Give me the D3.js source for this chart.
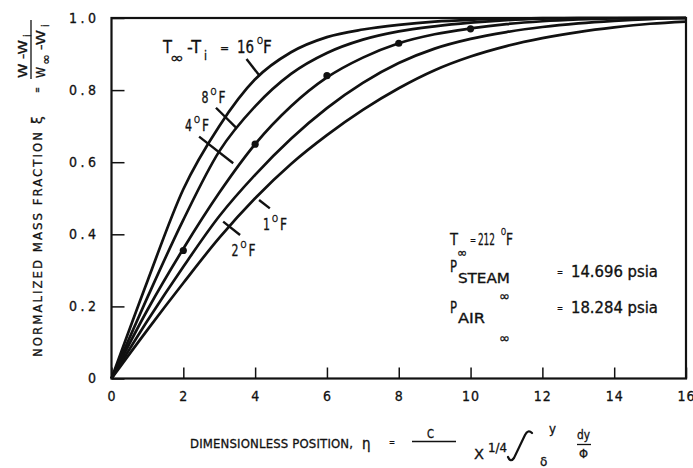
<!DOCTYPE html>
<html>
<head>
<meta charset="utf-8">
<script src="https://cdn.jsdelivr.net/npm/d3@7"></script>
<style>
  html, body { margin: 0; padding: 0; background: #fff; }
  svg { display: block; }
  text { font-family: "DejaVu Sans Condensed", "Liberation Sans Narrow", "Liberation Sans", sans-serif; fill: #111; stroke: #111; stroke-width: 0.3px; }
</style>
</head>
<body>
<svg id="chart" width="693" height="468"></svg>
<script>
// Dimensionless position eta at which each profile is tabulated
const eta = [0, 1, 2, 3, 4, 5, 6, 7, 8, 9, 10, 11, 12, 13, 14, 15, 16];

// Normalized mass fraction profiles for each temperature difference T∞ - Ti
const xi16F = [0, 0.27, 0.525, 0.70, 0.83, 0.905, 0.947, 0.968, 0.981, 0.990, 0.995, 0.998, 1.0, 1.0, 1.0, 1.0, 1.0];
const xi8F  = [0, 0.225, 0.44, 0.63, 0.755, 0.845, 0.903, 0.940, 0.963, 0.977, 0.987, 0.994, 0.998, 1.0, 1.0, 1.0, 1.0];
const xi4F  = [0, 0.19, 0.36, 0.515, 0.65, 0.755, 0.835, 0.890, 0.930, 0.955, 0.971, 0.983, 0.991, 0.996, 0.999, 1.0, 1.0];
const xi2F  = [0, 0.16, 0.31, 0.45, 0.565, 0.665, 0.75, 0.82, 0.875, 0.915, 0.942, 0.961, 0.975, 0.985, 0.992, 0.997, 1.0];
const xi1F  = [0, 0.135, 0.265, 0.39, 0.50, 0.595, 0.675, 0.745, 0.805, 0.855, 0.893, 0.922, 0.944, 0.961, 0.974, 0.984, 0.99];

// Measured points
const pointEta = [2, 4, 6, 8, 10];
const pointXi  = [0.355, 0.65, 0.84, 0.93, 0.97];

// Axis ticks
const xTicks = [0, 2, 4, 6, 8, 10, 12, 14, 16];
const yTicks = [0, 0.2, 0.4, 0.6, 0.8, 1.0];
const yTickLabels = ["0", "0.2", "0.4", "0.6", "0.8", "1.0"];

const series = [xi16F, xi8F, xi4F, xi2F, xi1F];

const svg = d3.select("#chart");
const x = d3.scaleLinear().domain([0, 16]).range([111.5, 686]);
const y = d3.scaleLinear().domain([0, 1]).range([378.5, 18]);

// ---- axes (ticks point inward) ----
const gx = svg.append("g")
  .attr("transform", `translate(0,${y(0)})`)
  .call(d3.axisBottom(x).tickValues(xTicks).tickSizeInner(-11).tickSizeOuter(0)
        .tickPadding(13).tickFormat(d3.format("d")));
gx.select(".domain").remove();
gx.selectAll(".tick line").attr("stroke", "#111").attr("stroke-width", 1.5);
gx.selectAll(".tick text").attr("font-size", 14).attr("letter-spacing", 1).attr("fill", "#111");

const gy = svg.append("g")
  .attr("transform", `translate(${x(0)},0)`)
  .call(d3.axisLeft(y).tickValues(yTicks).tickSizeInner(-13).tickSizeOuter(0)
        .tickPadding(12).tickFormat((d, i) => yTickLabels[i]));
gy.select(".domain").remove();
gy.selectAll(".tick line").attr("stroke", "#111").attr("stroke-width", 1.5);
gy.selectAll(".tick text").attr("font-size", 14).attr("letter-spacing", 3.5).attr("fill", "#111");

// ---- frame ----
svg.append("rect")
  .attr("x", x(0)).attr("y", y(1))
  .attr("width", x(16) - x(0)).attr("height", y(0) - y(1))
  .attr("fill", "none").attr("stroke", "#111").attr("stroke-width", 2.2);

// ---- profiles ----
const line = d3.line()
  .x((d, i) => x(eta[i]))
  .y(d => y(d))
  .curve(d3.curveMonotoneX);

svg.append("g").selectAll("path")
  .data(series)
  .join("path")
  .attr("d", line)
  .attr("fill", "none")
  .attr("stroke", "#111")
  .attr("stroke-width", 2.7)
  .attr("stroke-linejoin", "round");

// ---- measured points ----
svg.append("g").selectAll("circle")
  .data(pointEta)
  .join("circle")
  .attr("cx", d => x(d))
  .attr("cy", (d, i) => y(pointXi[i]))
  .attr("r", 3.6)
  .attr("fill", "#111");

// ---- leader lines from curve labels (data coordinates) ----
const leaderFrom = [[3.76, 0.886], [2.91, 0.751], [2.44, 0.671], [3.11, 0.435], [4.11, 0.495]];
const leaderTo   = [[4.13, 0.839], [3.49, 0.694], [3.39, 0.597], [3.58, 0.398], [4.41, 0.472]];
svg.append("g").selectAll("line")
  .data(leaderFrom)
  .join("line")
  .attr("x1", d => x(d[0])).attr("y1", d => y(d[1]))
  .attr("x2", (d, i) => x(leaderTo[i][0])).attr("y2", (d, i) => y(leaderTo[i][1]))
  .attr("stroke", "#111").attr("stroke-width", 2.4);

// Places a run of text pieces relative to an anchor point
function pieces(parent, ax, ay, parts) {
  const g = parent.append("g").attr("transform", `translate(${ax},${ay})`);
  parts.forEach(p => {
    const t = g.append("text")
      .attr("x", p.x || 0).attr("y", p.y || 0)
      .attr("font-size", p.fs || 15)
      .text(p.t);
    if (p.tl) t.attr("textLength", p.tl).attr("lengthAdjust", p.sp ? "spacing" : "spacingAndGlyphs");
    if (p.ff) t.style("font-family", p.ff);
  });
  return g;
}

// ---- curve labels ----
pieces(svg, x(1.434), y(0.903), [
  { t: "T", fs: 17, tl: 9 },
  { t: "∞", x: 7, y: 10, fs: 15, tl: 14 },
  { t: "-T", x: 24, fs: 17, tl: 14 },
  { t: "i", x: 41, y: 7, fs: 12 },
  { t: "=", x: 57, y: -1, fs: 12 },
  { t: "16", x: 74, fs: 17, tl: 17 },
  { t: "O", x: 94, y: -9, fs: 9, tl: 6 },
  { t: "F", x: 100, fs: 17 }
]);

const degLabels = [
  { v: "8", eta: 2.506, xi: 0.763 },
  { v: "4", eta: 2.046, xi: 0.687 },
  { v: "2", eta: 3.340, xi: 0.340 },
  { v: "1", eta: 4.218, xi: 0.412 }
];
degLabels.forEach(d => {
  pieces(svg, x(d.eta), y(d.xi), [
    { t: d.v, fs: 15, tl: 7 },
    { t: "O", x: 9, y: -8, fs: 9, tl: 6 },
    { t: "F", x: 17, fs: 15, tl: 7 }
  ]);
});

// ---- conditions ----
pieces(svg, x(9.426), y(0.370), [
  { t: "T", fs: 16, tl: 8 },
  { t: "∞", x: 7, y: 12, fs: 13, tl: 10 },
  { t: "=", x: 20, y: -1, fs: 11, tl: 6 },
  { t: "212", x: 28, fs: 16, tl: 17 },
  { t: "O", x: 51, y: -10, fs: 8, tl: 5 },
  { t: "F", x: 56, fs: 16, tl: 7 }
]);
pieces(svg, x(9.426), y(0.295), [
  { t: "P", fs: 16, tl: 7 },
  { t: "STEAM", x: 8, y: 11, fs: 14, tl: 52 },
  { t: "∞", x: 49, y: 29, fs: 14, tl: 11 },
  { t: "=", x: 107, y: 4, fs: 11, tl: 6 },
  { t: "14.696 psia", x: 121, y: 5, fs: 15, tl: 87 }
]);
pieces(svg, x(9.426), y(0.182), [
  { t: "P", fs: 16, tl: 7 },
  { t: "AIR", x: 8, y: 10, fs: 14, tl: 27 },
  { t: "∞", x: 49, y: 30, fs: 14, tl: 11 },
  { t: "=", x: 107, y: -1, fs: 11, tl: 6 },
  { t: "18.284 psia", x: 121, y: 0, fs: 15, tl: 87 }
]);

// ---- x-axis title ----
const xt = svg.append("g");
pieces(xt, 0, 0, [
  { t: "DIMENSIONLESS POSITION,", x: 190, y: 448, fs: 13, tl: 163, sp: true },
  { t: "η", x: 362, y: 449, fs: 15 },
  { t: "=", x: 389, y: 446, fs: 11, tl: 6 },
  { t: "C", x: 427, y: 438, fs: 13, tl: 7 },
  { t: "X", x: 474, y: 459, fs: 14, tl: 10 },
  { t: "1/4", x: 488, y: 452, fs: 12, tl: 19 },
  { t: "y", x: 549, y: 433, fs: 13, tl: 7 },
  { t: "δ", x: 540, y: 466, fs: 12, ff: "DejaVu Sans" },
  { t: "dy", x: 577, y: 439, fs: 13, tl: 13 },
  { t: "Φ", x: 579, y: 458, fs: 12, tl: 9 }
]);
xt.append("line").attr("x1", 412).attr("x2", 456).attr("y1", 441.5).attr("y2", 441.5)
  .attr("stroke", "#111").attr("stroke-width", 1.3);
xt.append("line").attr("x1", 577).attr("x2", 591).attr("y1", 444.5).attr("y2", 444.5)
  .attr("stroke", "#111").attr("stroke-width", 1.3);
// integral sign
xt.append("path")
  .attr("d", "M508,457 Q510.5,463 514,458 L525,435 Q528,429 532,433")
  .attr("fill", "none").attr("stroke", "#111").attr("stroke-width", 2.2)
  .attr("stroke-linecap", "round");

// ---- y-axis title (rotated) ----
const yt = svg.append("g").attr("transform", "rotate(-90)");
pieces(yt, 0, 0, [
  { t: "NORMALIZED MASS FRACTION", x: -357, y: 42, fs: 13, tl: 225, sp: true },
  { t: "ξ", x: -124, y: 42, fs: 14, ff: "DejaVu Sans" },
  { t: "=", x: -93, y: 41, fs: 11, tl: 6 },
  { t: "W -W", x: -78, y: 27, fs: 13, tl: 38 },
  { t: "i", x: -37, y: 31, fs: 11 },
  { t: "W", x: -78, y: 45, fs: 13, tl: 11 },
  { t: "∞", x: -65, y: 50, fs: 12, tl: 11 },
  { t: "-W", x: -50, y: 45, fs: 13, tl: 20 },
  { t: "i", x: -27, y: 49, fs: 11 }
]);
yt.append("line").attr("x1", -79).attr("x2", -20).attr("y1", 31).attr("y2", 31)
  .attr("stroke", "#111").attr("stroke-width", 1.3);
</script>
</body>
</html>
